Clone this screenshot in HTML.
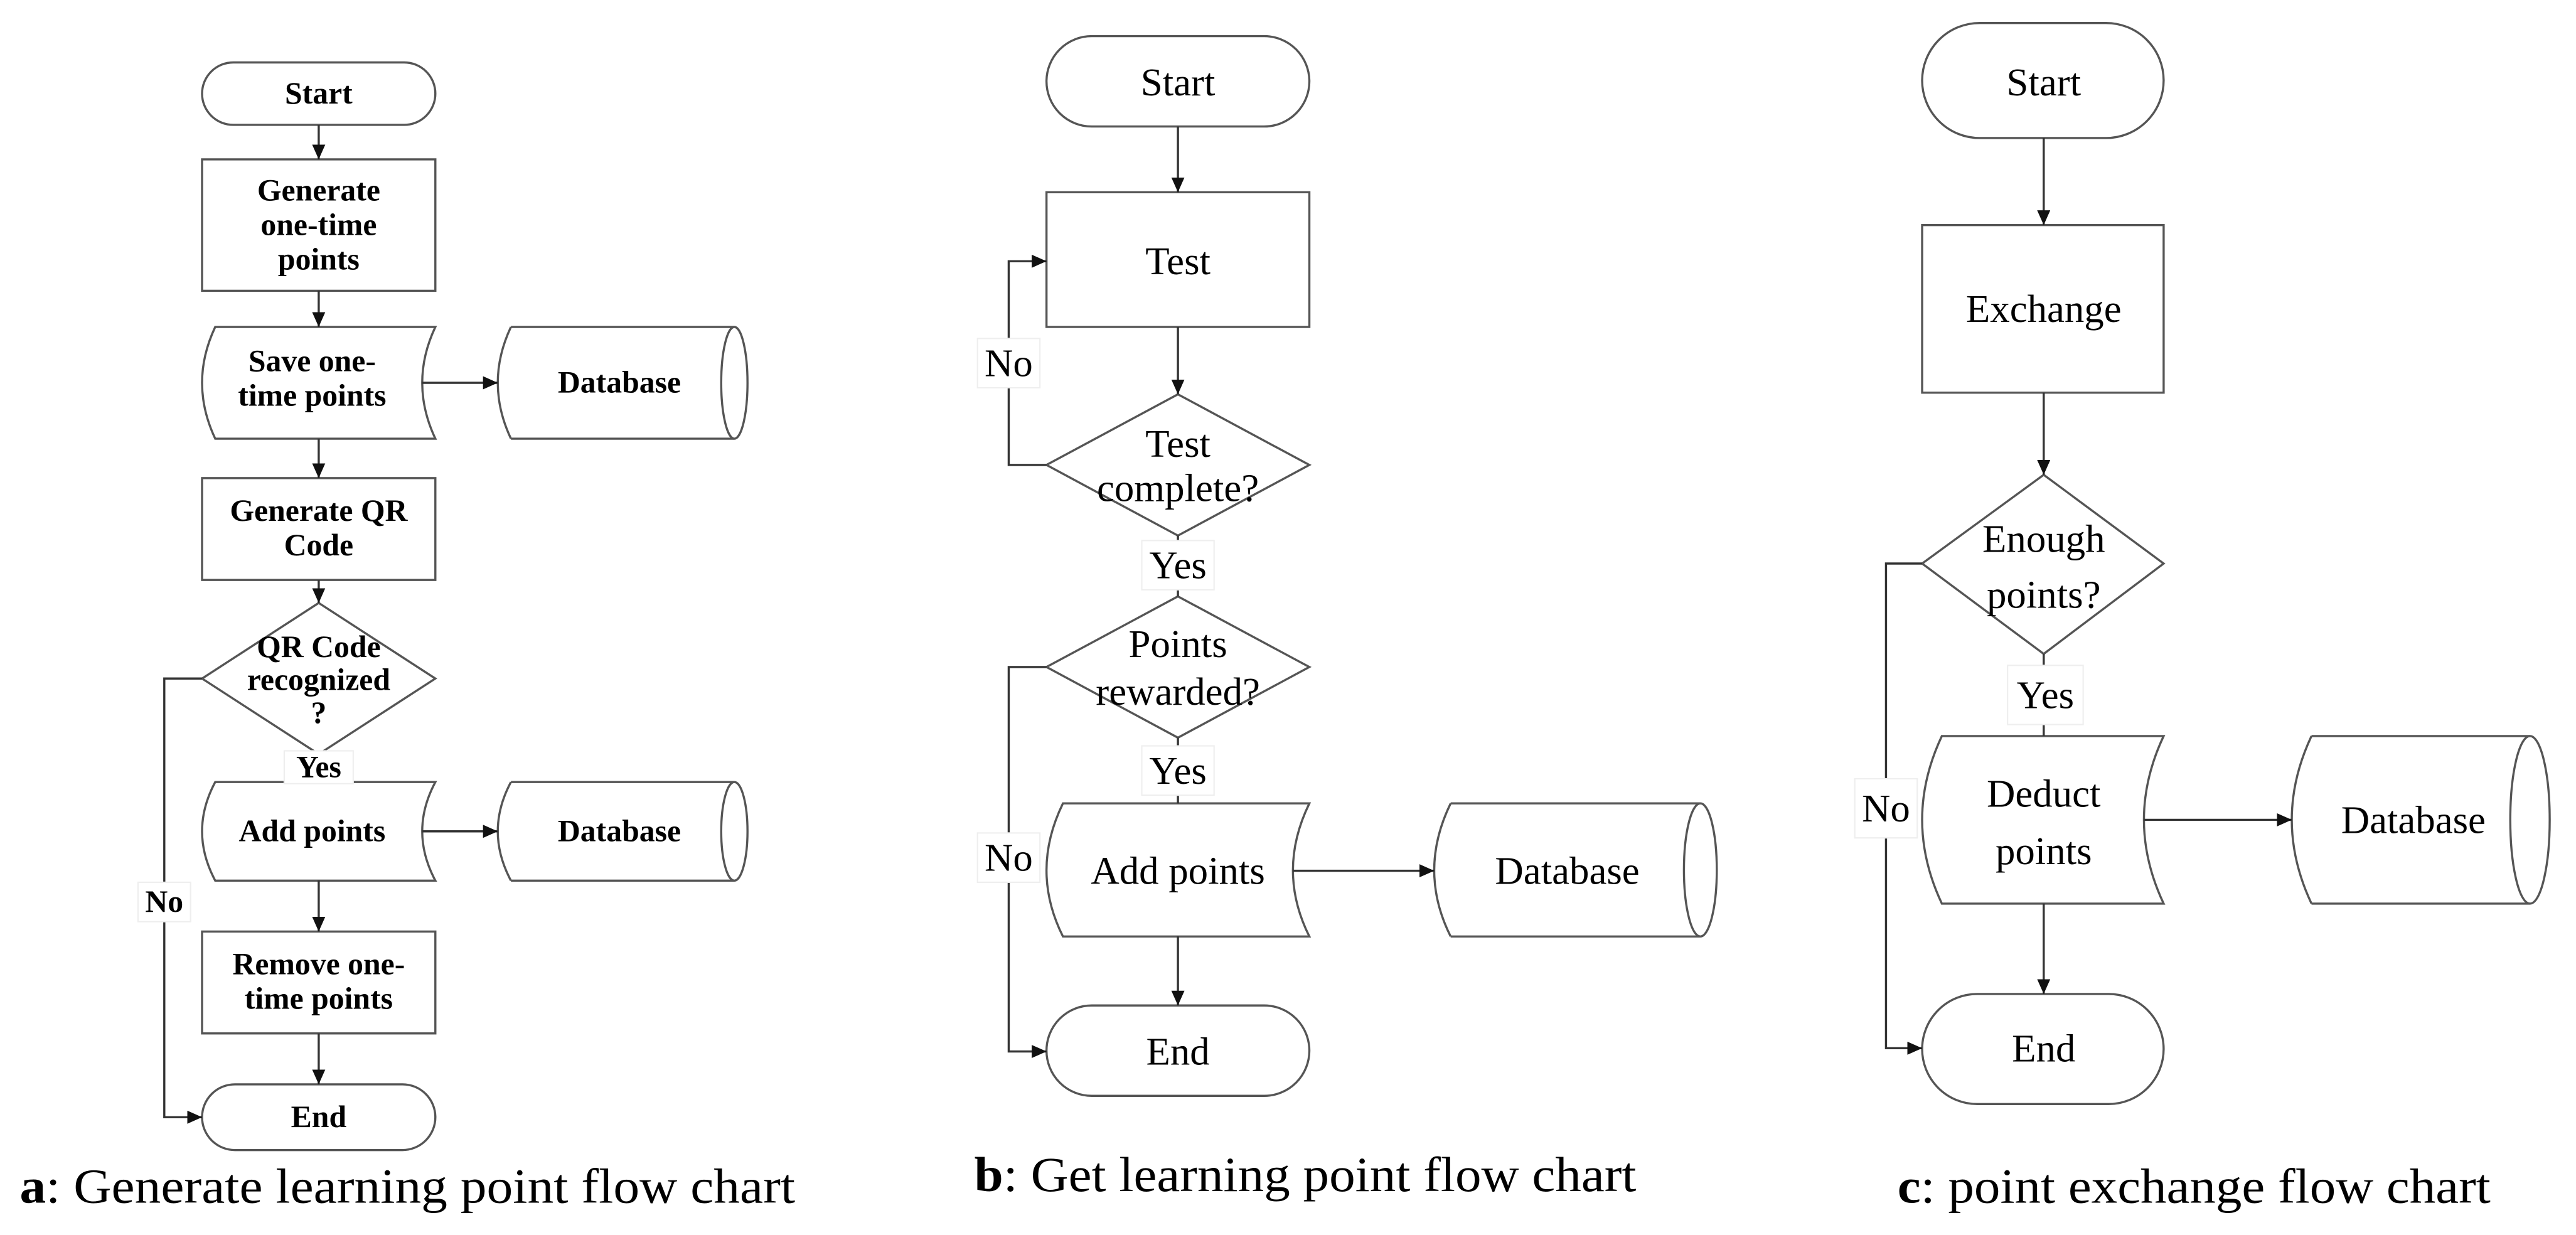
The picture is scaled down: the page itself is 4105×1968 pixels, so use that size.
<!DOCTYPE html>
<html><head><meta charset="utf-8"><style>
html,body{margin:0;padding:0;background:#fff;}
svg{display:block;}
text{font-family:"Liberation Serif",serif;fill:#000;}
.a{font-size:19px;font-weight:bold;}
.b{font-size:24px;}
.cap{font-size:30px;}
</style></head><body>
<svg width="4105" height="1968" viewBox="0 0 1568 751.7" preserveAspectRatio="none" xmlns="http://www.w3.org/2000/svg">
<defs>
<marker id="ar" markerUnits="userSpaceOnUse" markerWidth="10" markerHeight="10" refX="9" refY="4" orient="auto">
<path d="M0,0 L9,4 L0,8 Z" fill="#111"/>
</marker>
</defs>
<g fill="none" stroke="#555" stroke-width="1.3">
<rect x="123" y="38" width="142" height="38" rx="19"/>
<rect x="123" y="97" width="142" height="80"/>
<path d="M131,199 L265,199 Q249,233 265,267 L131,267 Q115,233 131,199 Z"/>
<path d="M311,199 L447,199 M311,267 L447,267 M311,199 Q295,233 311,267"/>
<ellipse cx="447" cy="233" rx="8" ry="34"/>
<rect x="123" y="291" width="142" height="62"/>
<path d="M194,367 L265,413 L194,459 L123,413 Z"/>
<path d="M131,476 L265,476 Q249,506 265,536 L131,536 Q115,506 131,476 Z"/>
<path d="M311,476 L447,476 M311,536 L447,536 M311,476 Q295,506 311,536"/>
<ellipse cx="447" cy="506" rx="8" ry="30"/>
<rect x="123" y="567" width="142" height="62"/>
<rect x="123" y="660" width="142" height="40" rx="20"/>
<g stroke="#333">
<path d="M194,76 V97" marker-end="url(#ar)"/>
<path d="M194,177 V199" marker-end="url(#ar)"/>
<path d="M257,233 H303" marker-end="url(#ar)"/>
<path d="M194,267 V291" marker-end="url(#ar)"/>
<path d="M194,353 V367" marker-end="url(#ar)"/>
<path d="M194,459 V476"/>
<path d="M257,506 H303" marker-end="url(#ar)"/>
<path d="M194,536 V567" marker-end="url(#ar)"/>
<path d="M194,629 V660" marker-end="url(#ar)"/>
<path d="M123,413 H100 V680 H123" marker-end="url(#ar)"/>
</g>
<rect x="637" y="22" width="160" height="55" rx="27.5"/>
<rect x="637" y="117" width="160" height="82"/>
<path d="M717,240 L797,283 L717,326 L637,283 Z"/>
<path d="M717,363 L797,406 L717,449 L637,406 Z"/>
<path d="M647,489 L797,489 Q777,530 797,570 L647,570 Q627,530 647,489 Z"/>
<path d="M883,489 L1035,489 M883,570 L1035,570 M883,489 Q863,530 883,570"/>
<ellipse cx="1035" cy="529.5" rx="10" ry="40.5"/>
<rect x="637" y="612" width="160" height="55" rx="27.5"/>
<g stroke="#333">
<path d="M717,77 V117" marker-end="url(#ar)"/>
<path d="M717,199 V240" marker-end="url(#ar)"/>
<path d="M717,326 V363"/>
<path d="M717,449 V489"/>
<path d="M787,530 H873" marker-end="url(#ar)"/>
<path d="M717,570 V612" marker-end="url(#ar)"/>
<path d="M637,283 H614 V159 H637" marker-end="url(#ar)"/>
<path d="M637,406 H614 V640 H637" marker-end="url(#ar)"/>
</g>
<rect x="1170" y="14" width="147" height="70" rx="35"/>
<rect x="1170" y="137" width="147" height="102"/>
<path d="M1244,289 L1317,343 L1244,398 L1170,343 Z"/>
<path d="M1182,448 L1317,448 Q1293,499 1317,550 L1182,550 Q1158,499 1182,448 Z"/>
<path d="M1407,448 L1540,448 M1407,550 L1540,550 M1407,448 Q1383,499 1407,550"/>
<ellipse cx="1540" cy="499" rx="12" ry="51"/>
<rect x="1170" y="605" width="147" height="67" rx="33.5"/>
<g stroke="#333">
<path d="M1244,84 V137" marker-end="url(#ar)"/>
<path d="M1244,239 V289" marker-end="url(#ar)"/>
<path d="M1244,398 V448"/>
<path d="M1305,499 H1395" marker-end="url(#ar)"/>
<path d="M1244,550 V605" marker-end="url(#ar)"/>
<path d="M1170,343 H1148 V638 H1170" marker-end="url(#ar)"/>
</g>
</g>
<g fill="#fff" stroke="#eee" stroke-width="0.8">
<rect x="173" y="457" width="42" height="20"/>
<rect x="84" y="537" width="32" height="24"/>
<rect x="595" y="206" width="38" height="30"/>
<rect x="695" y="329" width="44" height="30"/>
<rect x="695" y="454" width="44" height="30"/>
<rect x="595" y="507" width="38" height="30"/>
<rect x="1222" y="405" width="46" height="36"/>
<rect x="1129" y="474" width="38" height="36"/>
</g>
<g class="a" text-anchor="middle">
<text x="194" y="63">Start</text>
<text x="194" y="122">Generate</text>
<text x="194" y="143">one-time</text>
<text x="194" y="164">points</text>
<text x="190" y="226">Save one-</text>
<text x="190" y="247">time points</text>
<text x="377" y="239">Database</text>
<text x="194" y="317">Generate QR</text>
<text x="194" y="338">Code</text>
<text x="194" y="400">QR Code</text>
<text x="194" y="420">recognized</text>
<text x="194" y="440">?</text>
<text x="194" y="473">Yes</text>
<text x="190" y="512">Add points</text>
<text x="377" y="512">Database</text>
<text x="194" y="593">Remove one-</text>
<text x="194" y="614">time points</text>
<text x="194" y="686">End</text>
<text x="100" y="555">No</text>
</g>
<g class="b" text-anchor="middle">
<text x="717" y="58">Start</text>
<text x="717" y="167">Test</text>
<text x="717" y="278">Test</text>
<text x="717" y="305">complete?</text>
<text x="717" y="352">Yes</text>
<text x="717" y="400">Points</text>
<text x="717" y="429">rewarded?</text>
<text x="717" y="477">Yes</text>
<text x="717" y="538">Add points</text>
<text x="954" y="538">Database</text>
<text x="717" y="648">End</text>
<text x="614" y="229">No</text>
<text x="614" y="530">No</text>
</g>
<g class="b" text-anchor="middle">
<text x="1244" y="58">Start</text>
<text x="1244" y="196">Exchange</text>
<text x="1244" y="336">Enough</text>
<text x="1244" y="370">points?</text>
<text x="1245" y="431">Yes</text>
<text x="1244" y="491">Deduct</text>
<text x="1244" y="526">points</text>
<text x="1469" y="507">Database</text>
<text x="1244" y="646">End</text>
<text x="1148" y="500">No</text>
</g>
<text class="cap" x="12" y="732" textLength="472" lengthAdjust="spacingAndGlyphs"><tspan font-weight="bold">a</tspan>: Generate learning point flow chart</text>
<text class="cap" x="593" y="725" textLength="403" lengthAdjust="spacingAndGlyphs"><tspan font-weight="bold">b</tspan>: Get learning point flow chart</text>
<text class="cap" x="1155" y="732" textLength="361" lengthAdjust="spacingAndGlyphs"><tspan font-weight="bold">c</tspan>: point exchange flow chart</text>
</svg>
</body></html>
